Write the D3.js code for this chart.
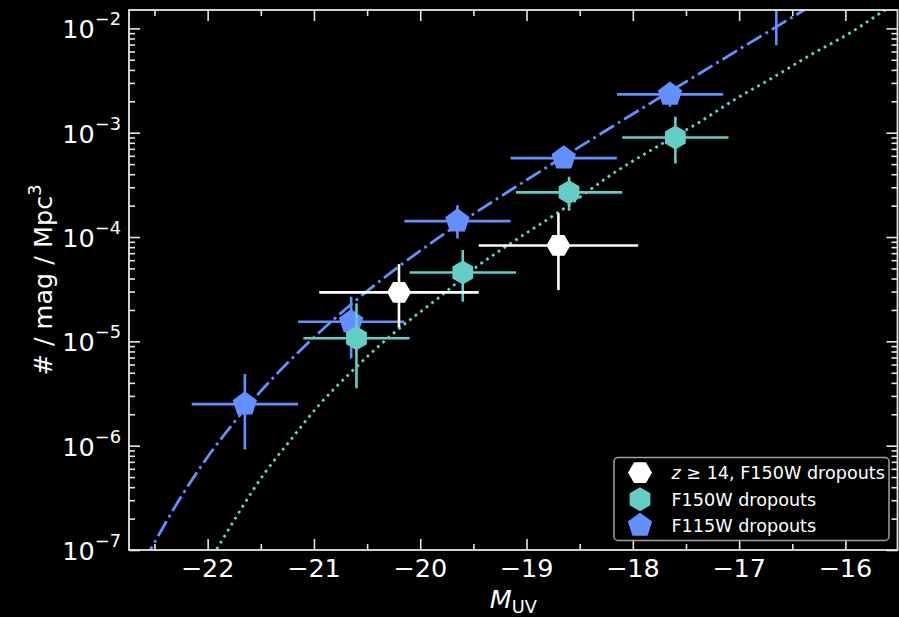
<!DOCTYPE html>
<html>
<head>
<meta charset="utf-8">
<script src="https://cdn.jsdelivr.net/npm/d3@7"></script>
<style>
  html, body { margin: 0; padding: 0; background: #000; }
  svg { display: block; font-family: "DejaVu Sans", sans-serif; }
</style>
</head>
<body>
<svg id="chart" width="899" height="617"></svg>
<script>
// ---- axis ticks ----
const xTickValues = [-22, -21, -20, -19, -18, -17, -16];
const xTickLabels = ["−22", "−21", "−20", "−19", "−18", "−17", "−16"];
const yTickExponents = [-7, -6, -5, -4, -3, -2];
const yTickLabels = ["−7", "−6", "−5", "−4", "−3", "−2"];

// ---- z >= 14, F150W dropouts ----
const z14M = [-20.2, -18.7];
const z14Phi = [2.95e-5, 8.3e-5];
const z14PhiLo = [1.36e-5, 3.1e-5];
const z14PhiHi = [5.5e-5, 1.69e-4];
const z14BinHalf = [0.75, 0.75];

// ---- F150W dropouts ----
const f150M = [-20.6, -19.6, -18.6, -17.6];
const f150Phi = [1.07e-5, 4.57e-5, 2.68e-4, 9.0e-4];
const f150PhiLo = [3.55e-6, 2.4e-5, 1.79e-4, 5.08e-4];
const f150PhiHi = [2.31e-5, 7.5e-5, 3.78e-4, 1.42e-3];
const f150BinHalf = [0.5, 0.5, 0.5, 0.5];

// ---- F115W dropouts ----
const f115M = [-21.65, -20.65, -19.65, -18.65, -17.65, -16.65];
const f115Phi = [2.5e-6, 1.54e-5, 1.42e-4, 5.71e-4, 2.33e-3, 2.0e-2];
const f115PhiLo = [9.2e-7, 6.87e-6, 9.7e-5, 4.55e-4, 1.77e-3, 6.9e-3];
const f115PhiHi = [4.86e-6, 2.68e-5, 2.02e-4, 7.2e-4, 3.0e-3, 4.0e-2];
const f115BinHalf = [0.5, 0.5, 0.5, 0.5, 0.5, 0.5];

// ---- model luminosity functions ----
const f115ModelM = [-22.6, -22.54, -22.3, -22.0, -21.7, -21.4, -21.1, -20.8, -20.5, -20.2, -19.9,
                    -19.6, -19.3, -19.0, -18.7, -18.4, -18.1, -17.8, -17.5, -17.2, -16.9, -16.6, -16.39, -16.25];
const f115ModelPhi = [7.8e-8, 1.0e-7, 2.67e-7, 7.8e-7, 1.94e-6, 4.3e-6, 8.75e-6, 1.67e-5, 3.03e-5, 5.24e-5, 8.73e-5,
                      1.42e-4, 2.25e-4, 3.52e-4, 5.48e-4, 8.47e-4, 1.31e-3, 2.01e-3, 3.08e-3, 4.73e-3, 7.26e-3, 1.11e-2, 1.5e-2, 1.85e-2];

const f150ModelM = [-21.95, -21.9, -21.47, -21.195, -20.944, -20.662, -20.254, -19.815, -19.469, -19.125,
                    -18.623, -18.185, -17.745, -17.369, -17.024, -16.694, -16.318, -15.942, -15.628, -15.45];
const f150ModelPhi = [8.9e-8, 1.08e-7, 5.35e-7, 1.22e-6, 2.51e-6, 4.94e-6, 1.19e-5, 2.68e-5, 5.19e-5, 9.02e-5,
                      1.95e-4, 4.07e-4, 7.62e-4, 1.27e-3, 2.13e-3, 3.32e-3, 5.64e-3, 9.23e-3, 1.5e-2, 1.95e-2];

// ---- colours ----
const colZ14 = "#ffffff";
const colF150 = "#66cdc6";
const colF115 = "#648fff";
const axisCol = "#e6e6e6";

// ---- layout ----
const svg = d3.select("#chart");
const plotL = 129, plotR = 897.5, plotT = 10, plotB = 550;

const x = d3.scaleLinear().domain([-22.74, -15.51]).range([plotL, plotR]);
const y = d3.scaleLog().domain([1e-7, 1.5e-2]).range([plotB, plotT]);

svg.append("rect").attr("width", 899).attr("height", 617).attr("fill", "#000");

svg.append("defs").append("clipPath").attr("id", "plotClip")
  .append("rect").attr("x", plotL).attr("y", plotT).attr("width", plotR - plotL).attr("height", plotB - plotT);

// ---- ticks ----
const xMinor = d3.range(-22.5, -15.5, 1);
const yMinor = [];
for (let e = -7; e <= -2; e++) for (let k = 2; k <= 9; k++) {
  const v = k * Math.pow(10, e);
  if (v < 1.5e-2) yMinor.push(v);
}
const yMajor = yTickExponents.map(e => Math.pow(10, e));

function styleAxis(g) {
  g.select(".domain").remove();
  g.selectAll("line").attr("stroke", axisCol).attr("stroke-width", 1.6);
  g.selectAll("text").remove();
}
svg.append("g").attr("transform", `translate(0,${plotB})`)
  .call(d3.axisBottom(x).tickValues(xTickValues).tickSize(-11)).call(styleAxis);
svg.append("g").attr("transform", `translate(0,${plotB})`)
  .call(d3.axisBottom(x).tickValues(xMinor).tickSize(-6)).call(styleAxis);
svg.append("g").attr("transform", `translate(0,${plotT})`)
  .call(d3.axisTop(x).tickValues(xTickValues).tickSize(-11)).call(styleAxis);
svg.append("g").attr("transform", `translate(0,${plotT})`)
  .call(d3.axisTop(x).tickValues(xMinor).tickSize(-6)).call(styleAxis);
svg.append("g").attr("transform", `translate(${plotL},0)`)
  .call(d3.axisLeft(y).tickValues(yMajor).tickSize(-11)).call(styleAxis);
svg.append("g").attr("transform", `translate(${plotL},0)`)
  .call(d3.axisLeft(y).tickValues(yMinor).tickSize(-6)).call(styleAxis);
svg.append("g").attr("transform", `translate(${plotR},0)`)
  .call(d3.axisRight(y).tickValues(yMajor).tickSize(-11)).call(styleAxis);
svg.append("g").attr("transform", `translate(${plotR},0)`)
  .call(d3.axisRight(y).tickValues(yMinor).tickSize(-6)).call(styleAxis);

// tick labels
svg.append("g").selectAll("text").data(xTickValues).join("text")
  .attr("x", d => x(d)).attr("y", 577)
  .attr("text-anchor", "middle").attr("fill", "#fff").attr("font-size", 25.5)
  .text((d, i) => xTickLabels[i]);

const yl = svg.append("g").selectAll("text").data(yTickExponents).join("text")
  .attr("x", 121).attr("y", d => y(Math.pow(10, d)) + 10)
  .attr("text-anchor", "end").attr("fill", "#fff").attr("font-size", 25.5);
yl.append("tspan").text("10");
yl.append("tspan").attr("font-size", 17.8).attr("dy", -13).text((d, i) => yTickLabels[i]);

// axis titles
const xt = svg.append("text").attr("x", (plotL + plotR) / 2).attr("y", 608)
  .attr("text-anchor", "middle").attr("fill", "#fff").attr("font-size", 25.5);
xt.append("tspan").attr("font-style", "italic").text("M");
xt.append("tspan").attr("font-size", 17.8).attr("dy", 5).text("UV");

const ytl = svg.append("text").attr("transform", `translate(52,${(plotT + plotB) / 2}) rotate(-90)`)
  .attr("text-anchor", "middle").attr("fill", "#fff").attr("font-size", 25.5);
ytl.append("tspan").text("# / mag / Mpc");
ytl.append("tspan").attr("font-size", 17.8).attr("dy", -11).text("3");

// ---- plot content ----
const plot = svg.append("g").attr("clip-path", "url(#plotClip)");

const line = d3.line().x(d => x(d[0])).y(d => y(d[1])).curve(d3.curveMonotoneX);
plot.append("path").datum(f115ModelM.map((m, i) => [m, f115ModelPhi[i]]))
  .attr("d", line).attr("fill", "none").attr("stroke", colF115)
  .attr("stroke-width", 2.8).attr("stroke-dasharray", "17,4.5,2.8,4.5");
plot.append("path").datum(f150ModelM.map((m, i) => [m, f150ModelPhi[i]]))
  .attr("d", line).attr("fill", "none").attr("stroke", colF150)
  .attr("stroke-width", 2.8).attr("stroke-dasharray", "2.8,4.2");

function polygon(n, r, rot) {
  return "M" + d3.range(n).map(i => {
    const a = rot + i * 2 * Math.PI / n;
    return [(r * Math.cos(a)).toFixed(2), (r * Math.sin(a)).toFixed(2)].join(",");
  }).join("L") + "Z";
}
const hexFlat = polygon(6, 12, 0);
const hexPointy = polygon(6, 12, -Math.PI / 2);
const pent = polygon(5, 12.8, -Math.PI / 2);

function series(M, phi, lo, hi, half, color, shape) {
  const rows = M.map((m, i) => ({ m, p: phi[i], lo: lo[i], hi: hi[i], h: half[i] }));
  const g = plot.append("g");
  g.selectAll(".xe").data(rows).join("line")
    .attr("x1", d => x(d.m - d.h)).attr("x2", d => x(d.m + d.h))
    .attr("y1", d => y(d.p)).attr("y2", d => y(d.p))
    .attr("stroke", color).attr("stroke-width", 2.6);
  g.selectAll(".ye").data(rows).join("line")
    .attr("x1", d => x(d.m)).attr("x2", d => x(d.m))
    .attr("y1", d => y(d.lo)).attr("y2", d => y(d.hi))
    .attr("stroke", color).attr("stroke-width", 2.6);
  g.selectAll(".mk").data(rows).join("path")
    .attr("d", shape).attr("transform", d => `translate(${x(d.m)},${y(d.p)})`)
    .attr("fill", color);
}
series(f115M, f115Phi, f115PhiLo, f115PhiHi, f115BinHalf, colF115, pent);
series(f150M, f150Phi, f150PhiLo, f150PhiHi, f150BinHalf, colF150, hexPointy);
series(z14M, z14Phi, z14PhiLo, z14PhiHi, z14BinHalf, colZ14, hexFlat);

// ---- frame ----
svg.append("rect").attr("x", plotL).attr("y", plotT).attr("width", plotR - plotL).attr("height", plotB - plotT)
  .attr("fill", "none").attr("stroke", axisCol).attr("stroke-width", 1.8);

// ---- legend ----
const leg = svg.append("g");
leg.append("rect").attr("x", 614).attr("y", 457.5).attr("width", 275).attr("height", 83)
  .attr("rx", 4).attr("fill", "#000").attr("fill-opacity", 0.85)
  .attr("stroke", "#a0a0a0").attr("stroke-width", 1.5);
const legendRows = [
  { shape: hexFlat, color: colZ14, cy: 472.7 },
  { shape: hexPointy, color: colF150, cy: 499.3 },
  { shape: pent, color: colF115, cy: 525.5 }
];
legendRows.forEach((r, i) => {
  leg.append("path").attr("d", r.shape).attr("transform", `translate(640,${r.cy})`).attr("fill", r.color);
  const t = leg.append("text").attr("x", 671.5).attr("y", r.cy + 6.4)
    .attr("fill", "#fff").attr("font-size", 17.6);
  if (i === 0) {
    t.append("tspan").attr("font-style", "italic").text("z");
    t.append("tspan").text(" ≥ 14, F150W dropouts");
  } else {
    t.text(i === 1 ? "F150W dropouts" : "F115W dropouts");
  }
});
</script>
</body>
</html>
